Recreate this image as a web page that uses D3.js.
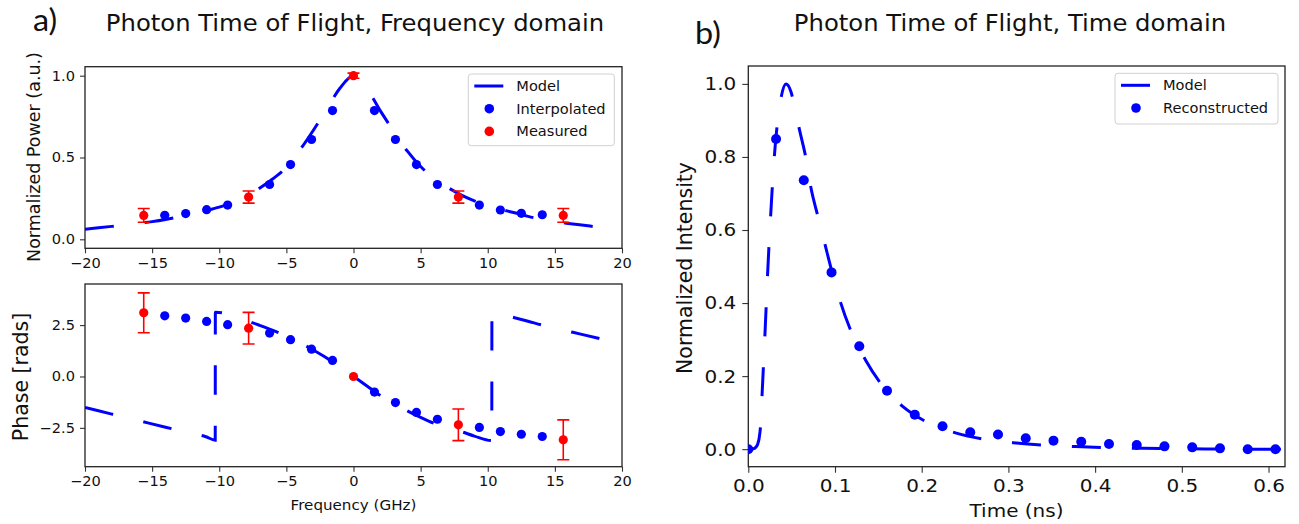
<!DOCTYPE html>
<html>
<head>
<meta charset="utf-8">
<script src="https://cdn.jsdelivr.net/npm/d3@7"></script>
<style>
  body { margin: 0; background: #fff; }
  text { font-family: "DejaVu Sans", sans-serif; fill: #111; }
</style>
</head>
<body>
<div id="chart"></div>
<script>
// ---- data: frequency domain ----
var freqMeas = [-15.625, -7.8125, 0, 7.8125, 15.625];
var powerMeas = [0.146, 0.258, 1.0, 0.258, 0.146];
var powerErr = [0.042, 0.037, 0.016, 0.037, 0.042];
var phaseMeas = [3.10, 2.35, 0, -2.35, -3.08];
var phaseErr = [0.97, 0.77, 0, 0.77, 0.97];

var freqInterp = [-14.06, -12.5, -10.94, -9.375, -6.25, -4.69, -3.125, -1.5625,
                  1.5625, 3.125, 4.69, 6.25, 9.375, 10.94, 12.5, 14.06];
var powerInterp = [0.147, 0.157, 0.181, 0.209, 0.335, 0.457, 0.61, 0.787,
                   0.787, 0.61, 0.457, 0.335, 0.209, 0.179, 0.159, 0.15];
var phaseInterp = [2.95, 2.84, 2.68, 2.52, 2.11, 1.79, 1.33, 0.78,
                   -0.76, -1.27, -1.75, -2.08, -2.48, -2.68, -2.81, -2.92];

var freqModel = [-20, -19, -18, -17, -16, -15, -14, -13, -12, -11, -10, -9, -8, -7, -6, -5, -4, -3, -2, -1, 0,
                 1, 2, 3, 4, 5, 6, 7, 8, 9, 10, 11, 12, 13, 14, 15, 16, 17, 18];
var powerModel = [0.061, 0.070, 0.079, 0.088, 0.098, 0.108, 0.121, 0.137, 0.155, 0.175, 0.197, 0.225, 0.262, 0.312, 0.37, 0.44, 0.545, 0.665, 0.795, 0.925, 1.0,
                  0.92, 0.785, 0.66, 0.54, 0.445, 0.372, 0.318, 0.272, 0.235, 0.205, 0.183, 0.162, 0.14, 0.122, 0.108, 0.097, 0.087, 0.077];

var freqPhaseModel = [-20, -18, -16, -14, -12, -11, -10.3, -10.29, -9.8, -9, -8, -7, -6, -5, -4, -3, -2, -1, 0,
                      1, 2, 3, 4, 5, 6, 7, 8, 9, 10.3, 10.31, 11, 12, 13, 14, 15, 16, 17, 18.5];
var phaseModel = [-1.51, -1.83, -2.15, -2.47, -2.78, -2.93, -3.1, 3.13, 3.1, 2.95, 2.73, 2.49, 2.24, 1.96, 1.65, 1.29, 0.9, 0.46, 0,
                  -0.46, -0.93, -1.31, -1.67, -1.99, -2.28, -2.5, -2.68, -2.9, -3.12, 3.13, 3.02, 2.86, 2.69, 2.51, 2.35, 2.2, 2.05, 1.82];

// ---- data: time domain ----
var timeRecon = [0, 0.032, 0.064, 0.096, 0.128, 0.16, 0.192, 0.224, 0.256, 0.288,
                 0.32, 0.352, 0.384, 0.416, 0.448, 0.48, 0.512, 0.544, 0.576, 0.608];
var intensRecon = [0, 0.849, 0.736, 0.484, 0.282, 0.160, 0.0945, 0.0625, 0.046, 0.04,
                   0.0297, 0.0233, 0.0205, 0.0142, 0.0115, 0.0077, 0.005, 0.0022, 0.0, 0.0];

var timeModel = [0, 0.006, 0.009, 0.011, 0.0125, 0.0143, 0.0155, 0.0175, 0.0195, 0.0215, 0.0235, 0.0258, 0.028,
                 0.031, 0.0345, 0.038, 0.0435, 0.049, 0.054, 0.059, 0.0662, 0.0723, 0.08, 0.088, 0.096, 0.106,
                 0.119, 0.135, 0.156, 0.178, 0.206, 0.24, 0.273, 0.309, 0.342, 0.377, 0.411, 0.448, 0.48, 0.544, 0.58, 0.619];
var intensModel = [0, 0.001, 0.006, 0.015, 0.03, 0.07, 0.13, 0.23, 0.33, 0.44, 0.54, 0.64, 0.73,
                   0.83, 0.91, 0.965, 1.0, 0.98, 0.93, 0.875, 0.80, 0.715, 0.64, 0.565, 0.49, 0.405,
                   0.32, 0.245, 0.17, 0.117, 0.074, 0.044, 0.027, 0.017, 0.011, 0.007, 0.004, 0.0025, 0.0015, 0.0005, 0, 0];

var freqTicks = [-20, -15, -10, -5, 0, 5, 10, 15, 20];
var powerTicks = [0, 0.5, 1.0];
var phaseTicks = [-2.5, 0, 2.5];
var timeTicks = [0, 0.1, 0.2, 0.3, 0.4, 0.5, 0.6];
var intensTicks = [0, 0.2, 0.4, 0.6, 0.8, 1.0];

var BLUE = "#0000ff", RED = "#ff0000";
var DASH = "29,31";
var SX = 1.08;   // text looks a bit wider than DejaVu, stretch it

var svg = d3.select("#chart").append("svg")
    .attr("width", 1299)
    .attr("height", 524);
var defs = svg.append("defs");

// scales
var xF = d3.scaleLinear().domain([-20, 20]).range([85, 622]);
var yPow = d3.scaleLinear().domain([-0.055, 1.055]).range([248.3, 66.7]);
var yPh = d3.scaleLinear().domain([-4.39, 4.5]).range([466.7, 284]);
var xT = d3.scaleLinear().domain([0, 0.619]).range([748.3, 1285]);
var yI = d3.scaleLinear().domain([-0.048, 1.049]).range([466.7, 66]);

function panel(id, x, y, o) {
    var x0 = x.range()[0], x1 = x.range()[1], y0 = y.range()[1], y1 = y.range()[0];
    defs.append("clipPath").attr("id", id)
        .append("rect").attr("x", x0).attr("y", y0).attr("width", x1 - x0).attr("height", y1 - y0);

    var ax = svg.append("g")
        .attr("transform", "translate(0," + y1 + ")")
        .call(d3.axisBottom(x).tickValues(o.xTicks).tickFormat(d3.format(o.xFmt))
            .tickSizeInner(o.tick).tickSizeOuter(0).tickPadding(o.pad));
    var ay = svg.append("g")
        .attr("transform", "translate(" + x0 + ",0)")
        .call(d3.axisLeft(y).tickValues(o.yTicks).tickFormat(d3.format(o.yFmt))
            .tickSizeInner(o.tick).tickSizeOuter(0).tickPadding(o.pad));
    [ax, ay].forEach(function (a) {
        a.select(".domain").remove();
        a.selectAll(".tick line").attr("stroke", "#333").attr("stroke-width", 1.1);
        a.selectAll(".tick text").style("font-size", o.fs + "px")
            .style("font-family", "DejaVu Sans").attr("fill", "#111");
    });

    svg.append("rect")
        .attr("x", x0).attr("y", y0).attr("width", x1 - x0).attr("height", y1 - y0)
        .attr("fill", "none").attr("stroke", "#222").attr("stroke-width", 1.3);

    return svg.append("g").attr("clip-path", "url(#" + id + ")");
}

function modelLine(g, xs, ys, x, y) {
    var line = d3.line()
        .x(function (d) { return x(d[0]); })
        .y(function (d) { return y(d[1]); })
        .curve(d3.curveMonotoneX);
    g.append("path")
        .datum(xs.map(function (v, i) { return [v, ys[i]]; }))
        .attr("d", line)
        .attr("fill", "none")
        .attr("stroke", BLUE)
        .attr("stroke-width", 3)
        .attr("stroke-dasharray", DASH);
}

function dots(g, xs, ys, x, y, color, r) {
    g.selectAll(null)
        .data(xs.map(function (v, i) { return [v, ys[i]]; }))
        .enter().append("circle")
        .attr("cx", function (d) { return x(d[0]); })
        .attr("cy", function (d) { return y(d[1]); })
        .attr("r", r)
        .attr("fill", color);
}

function errbars(g, xs, ys, es, x, y) {
    var data = xs.map(function (v, i) { return { x: v, y: ys[i], e: es[i] }; })
        .filter(function (d) { return d.e > 0; });
    var eb = g.selectAll(null).data(data).enter().append("g")
        .attr("stroke", RED).attr("stroke-width", 1.6);
    eb.append("line")
        .attr("x1", function (d) { return x(d.x); }).attr("x2", function (d) { return x(d.x); })
        .attr("y1", function (d) { return y(d.y - d.e); }).attr("y2", function (d) { return y(d.y + d.e); });
    [-1, 1].forEach(function (s) {
        eb.append("line")
            .attr("x1", function (d) { return x(d.x) - 6; }).attr("x2", function (d) { return x(d.x) + 6; })
            .attr("y1", function (d) { return y(d.y + s * d.e); }).attr("y2", function (d) { return y(d.y + s * d.e); });
    });
}

function legend(x0, y0, w, h, items) {
    var g = svg.append("g");
    g.append("rect").attr("x", x0).attr("y", y0).attr("width", w).attr("height", h)
        .attr("rx", 3).attr("fill", "#fff").attr("fill-opacity", 0.85)
        .attr("stroke", "#d0d0d0").attr("stroke-width", 1);
    items.forEach(function (it, i) {
        var cy = y0 + 12 + i * 22.7;
        if (it.type === "line") {
            g.append("line").attr("x1", x0 + 6).attr("x2", x0 + 35).attr("y1", cy).attr("y2", cy)
                .attr("stroke", it.color).attr("stroke-width", 3);
        } else {
            g.append("circle").attr("cx", x0 + 21).attr("cy", cy).attr("r", 4.8).attr("fill", it.color);
        }
        g.append("text").attr("x", x0 + 48).attr("y", cy + 5)
            .style("font-size", "13.5px").text(it.label);
    });
}

// ---- a) power ----
var gP = panel("clipP", xF, yPow, { xTicks: freqTicks, yTicks: powerTicks, xFmt: "d", yFmt: ".1f", tick: 5, pad: 5, fs: 13.5 });
modelLine(gP, freqModel, powerModel, xF, yPow);
dots(gP, freqInterp, powerInterp, xF, yPow, BLUE, 4.6);
errbars(gP, freqMeas, powerMeas, powerErr, xF, yPow);
dots(gP, freqMeas, powerMeas, xF, yPow, RED, 4.6);
legend(468.3, 74, 146, 71.7, [
    { type: "line", color: BLUE, label: "Model" },
    { type: "dot", color: BLUE, label: "Interpolated" },
    { type: "dot", color: RED, label: "Measured" }
]);

// ---- a) phase ----
var gPh = panel("clipPh", xF, yPh, { xTicks: freqTicks, yTicks: phaseTicks, xFmt: "d", yFmt: ".1f", tick: 5, pad: 5, fs: 13.5 });
modelLine(gPh, freqPhaseModel, phaseModel, xF, yPh);
dots(gPh, freqInterp, phaseInterp, xF, yPh, BLUE, 4.6);
errbars(gPh, freqMeas, phaseMeas, phaseErr, xF, yPh);
dots(gPh, freqMeas, phaseMeas, xF, yPh, RED, 4.6);

// ---- b) time domain ----
var gT = panel("clipT", xT, yI, { xTicks: timeTicks, yTicks: intensTicks, xFmt: ".1f", yFmt: ".1f", tick: 6, pad: 6, fs: 18.5 });
modelLine(gT, timeModel, intensModel, xT, yI);
dots(gT, timeRecon, intensRecon, xT, yI, BLUE, 5);
legend(1115, 73.3, 163, 50.7, [
    { type: "line", color: BLUE, label: "Model" },
    { type: "dot", color: BLUE, label: "Reconstructed" }
]);

// ---- titles and labels ----
svg.append("text").attr("x", 33).attr("y", 31).style("font-family", "Lato").style("font-size", "30px").text("a)");
svg.append("text").attr("x", 695).attr("y", 44).style("font-family", "Lato").style("font-size", "30px").text("b)");
svg.append("text").attr("x", 355).attr("y", 31).attr("text-anchor", "middle")
    .style("font-size", "22.5px").text("Photon Time of Flight, Frequency domain");
svg.append("text").attr("x", 1010).attr("y", 31).attr("text-anchor", "middle")
    .style("font-size", "22.5px").text("Photon Time of Flight, Time domain");
svg.append("text").attr("x", 353.5).attr("y", 509.5).attr("text-anchor", "middle")
    .style("font-size", "14px").text("Frequency (GHz)");
svg.append("text").attr("x", 1016.5).attr("y", 517).attr("text-anchor", "middle")
    .style("font-size", "18.5px").text("Time (ns)");

function ylabel(x, y, size, txt) {
    svg.append("text").attr("class", "rot")
        .attr("transform", "translate(" + x + "," + y + ") rotate(-90)")
        .attr("text-anchor", "middle")
        .style("font-size", size + "px").text(txt);
}
ylabel(40, 157, 17.5, "Normalized Power (a.u.)");
ylabel(27.5, 377, 20.5, "Phase [rads]");
ylabel(692, 268, 20.5, "Normalized Intensity");

// widen horizontal text a little
svg.selectAll("text").filter(function () { return !this.classList.contains("rot"); })
    .each(function () {
        var L = this.getComputedTextLength();
        d3.select(this).attr("textLength", L * SX).attr("lengthAdjust", "spacingAndGlyphs");
    });
</script>
</body>
</html>
